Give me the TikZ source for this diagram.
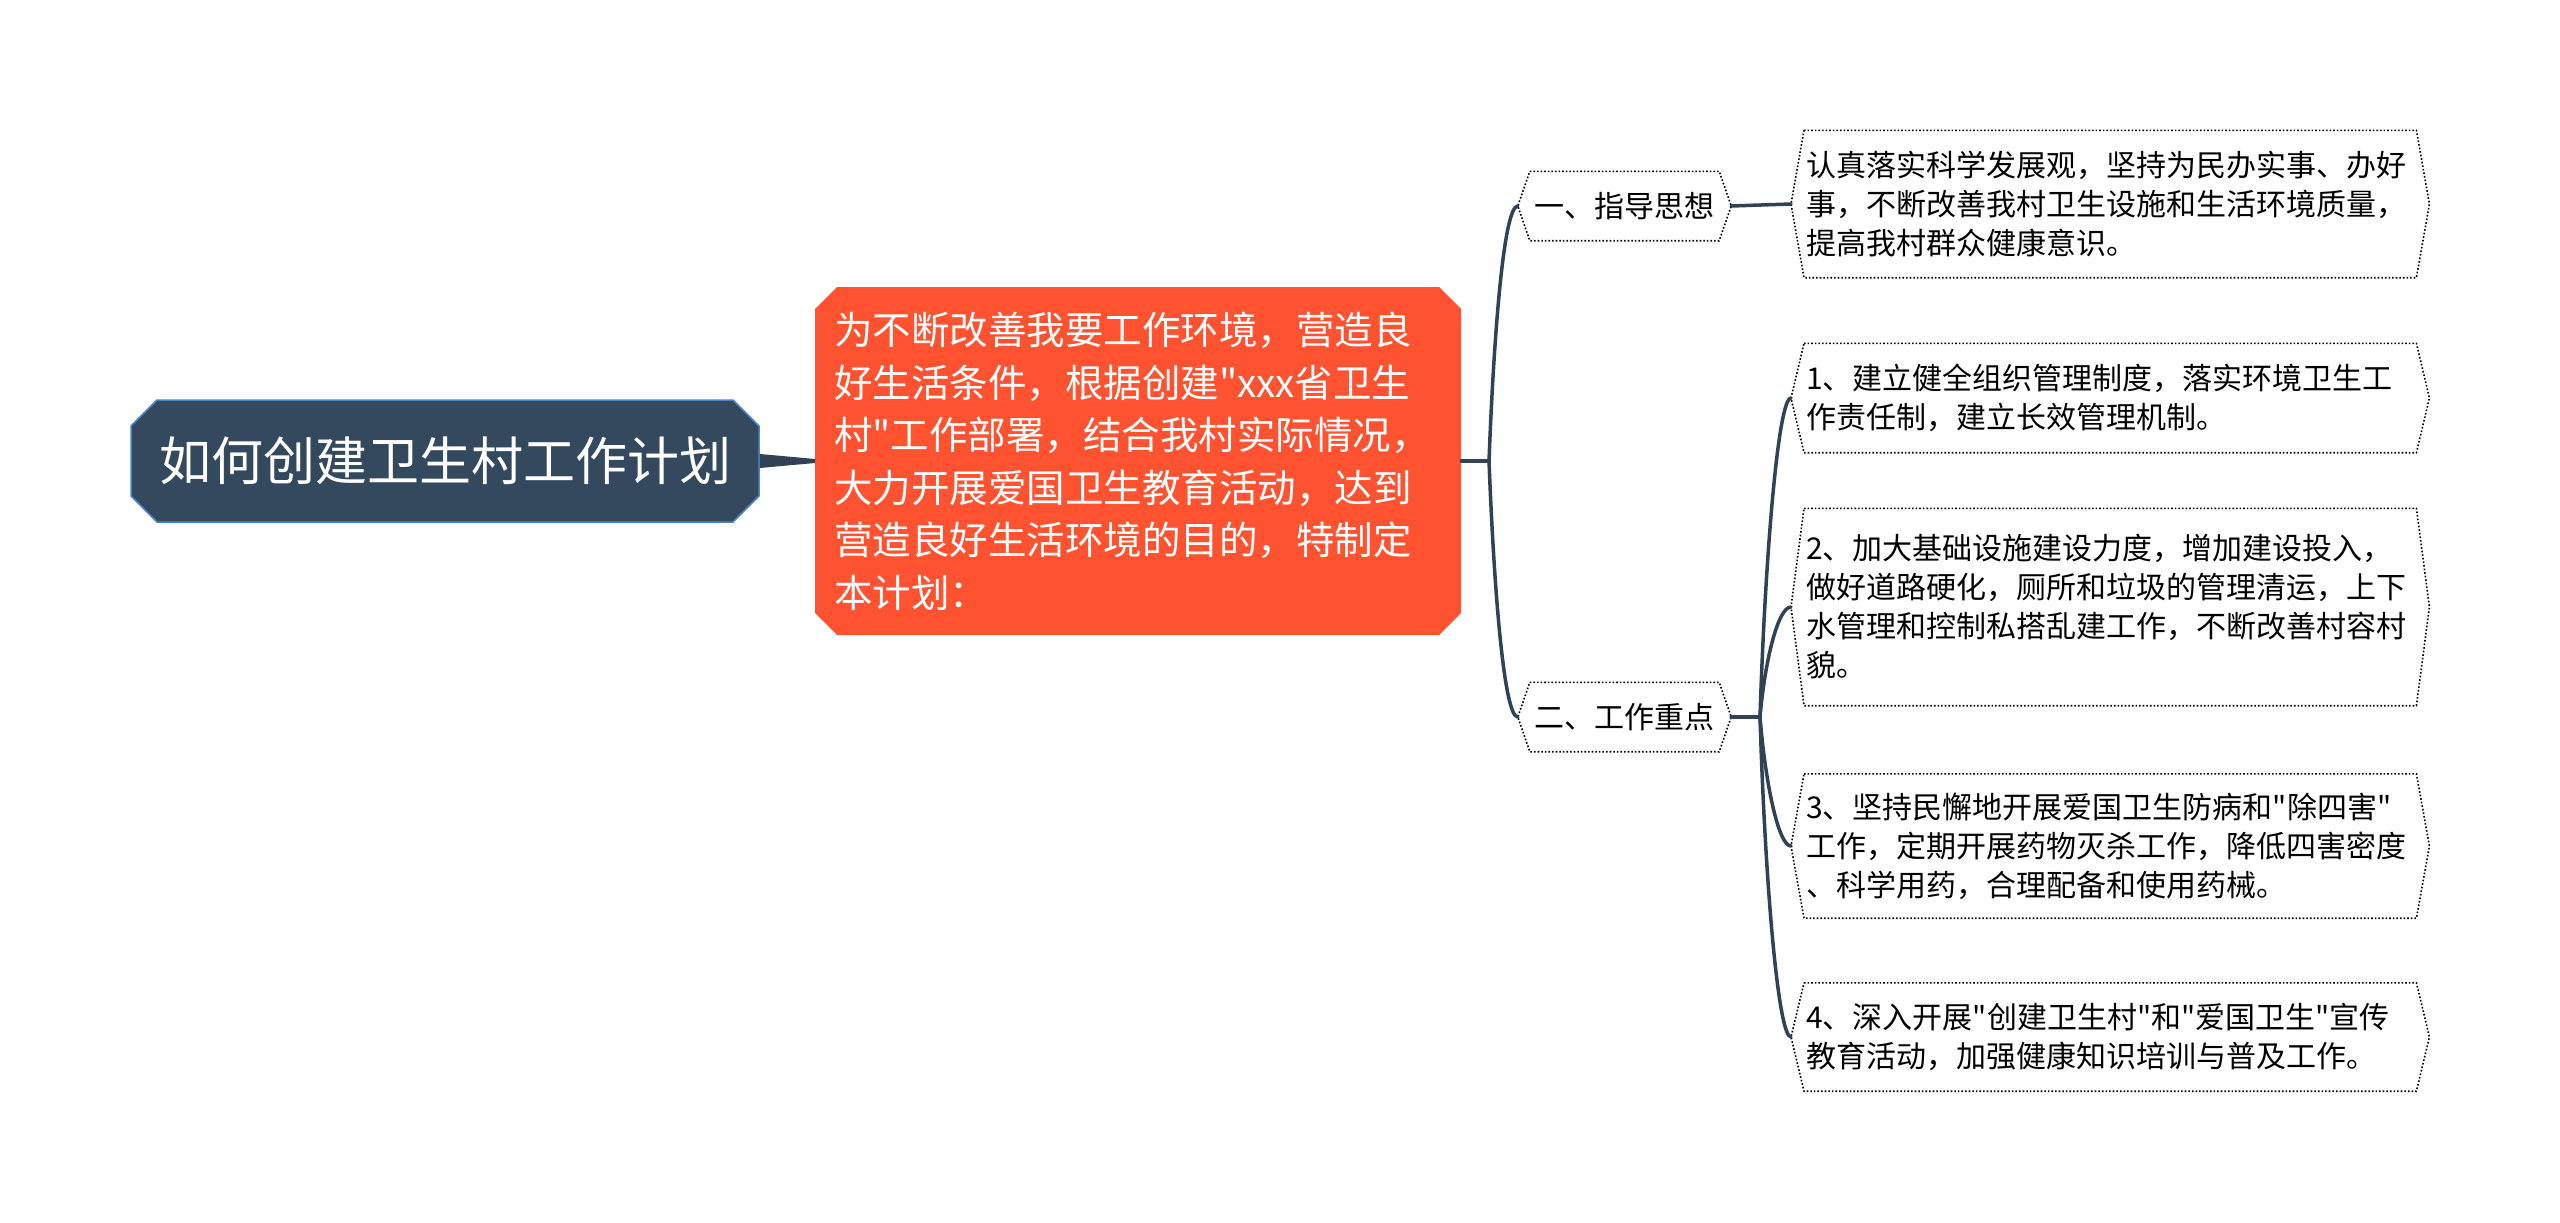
\documentclass[tikz,border=0pt]{standalone}
\usepackage{fontspec}
\setmainfont{Noto Sans CJK SC}[Ligatures=TeXOff]
\usetikzlibrary{shapes.misc,calc}
\definecolor{rootfill}{HTML}{34495E}
\definecolor{rootedge}{HTML}{4A86C8}
\definecolor{orangefill}{HTML}{FE5230}
\definecolor{linecol}{HTML}{2F4355}
\tikzset{
  rootbox/.style={chamfered rectangle, chamfered rectangle xsep=13pt, chamfered rectangle ysep=13pt,
    fill=rootfill, draw=rootedge, line width=1.5pt, text=white, minimum width=628pt, minimum height=122pt,
    inner sep=0pt, font=\fontsize{52}{62}\selectfont},
  orangebox/.style={chamfered rectangle, chamfered rectangle xsep=11pt, chamfered rectangle ysep=11pt,
    fill=orangefill, draw=none, text=white, anchor=west, inner xsep=8pt, inner ysep=0pt,
    minimum height=348pt, text width=608pt, align=left, font=\fontsize{38.5}{52.5}\selectfont},
  midbox/.style={rectangle, draw=none, fill=white, minimum width=189pt, minimum height=69pt, inner sep=0pt,
    font=\fontsize{30}{39}\selectfont},
  leafbox/.style={rectangle, draw=none, fill=white, anchor=west, inner xsep=2pt, inner ysep=0pt,
    text width=608pt, align=left, font=\fontsize{30}{39}\selectfont},
  hexline/.style={draw=black, dotted, line width=1.6pt},
  conn/.style={draw=linecol, line width=3.5pt, line cap=round},
}
\begin{document}
\begin{tikzpicture}[x=1pt,y=-1pt]
\useasboundingbox[fill=white] (0,0) rectangle (2560,1223);

% nodes
\node[rootbox] (root) at (445,461) {如何创建卫生村工作计划};
\node[orangebox] (main) at (815,461) {为不断改善我要工作环境，营造良\\好生活条件，根据创建"xxx省卫生\\村"工作部署，结合我村实际情况，\\大力开展爱国卫生教育活动，达到\\营造良好生活环境的目的，特制定\\本计划：};

\node[midbox] (g1) at (1624.5,206) {一、指导思想};
\node[midbox] (g2) at (1624.5,717) {二、工作重点};

\node[leafbox, minimum height=147pt] (l0) at (1804,204) {认真落实科学发展观，坚持为民办实事、办好\\事，不断改善我村卫生设施和生活环境质量，\\提高我村群众健康意识。};
\node[leafbox, minimum height=109pt] (l1) at (1804,398) {1、建立健全组织管理制度，落实环境卫生工\\作责任制，建立长效管理机制。};
\node[leafbox, minimum height=197pt] (l2) at (1804,607) {2、加大基础设施建设力度，增加建设投入，\\做好道路硬化，厕所和垃圾的管理清运，上下\\水管理和控制私搭乱建工作，不断改善村容村\\貌。};
\node[leafbox, minimum height=144pt] (l3) at (1804,846) {3、坚持民懈地开展爱国卫生防病和"除四害"\\工作，定期开展药物灭杀工作，降低四害密度\\、科学用药，合理配备和使用药械。};
\node[leafbox, minimum height=108pt] (l4) at (1804,1037) {4、深入开展"创建卫生村"和"爱国卫生"宣传\\教育活动，加强健康知识培训与普及工作。};

% hexagon outlines
\foreach \n/\d in {g1/12,g2/12,l0/13,l1/13,l2/13,l3/13,l4/13}{
  \draw[hexline] (\n.north west) -- (\n.north east) -- ([xshift=\d pt]\n.east) -- (\n.south east)
    -- (\n.south west) -- ([xshift=-\d pt]\n.west) -- cycle;
  \coordinate (\n w) at ([xshift=-\d pt]\n.west);
  \coordinate (\n e) at ([xshift=\d pt]\n.east);
}

% root -> main tapered connector
\fill[linecol] ([yshift=7pt]root.east) -- ([yshift=2pt]main.west) -- ([yshift=-2pt]main.west) -- ([yshift=-7pt]root.east) -- cycle;

% main -> forks
\coordinate (f1) at (1489,461);
\coordinate (f2) at (1760,717);
\draw[conn] (main.east) -- (f1);
\draw[conn] (f1) .. controls (1494,330) and (1504,206) .. (g1w);
\draw[conn] (f1) .. controls (1494,590) and (1504,717) .. (g2w);

\draw[conn] (g1e) -- (l0w);
\draw[conn] (g2e) -- (f2);
\draw[conn] (f2) .. controls (1765,560) and (1778,398) .. (l1w);
\draw[conn] (f2) .. controls (1765,660) and (1778,607) .. (l2w);
\draw[conn] (f2) .. controls (1765,780) and (1778,846) .. (l3w);
\draw[conn] (f2) .. controls (1765,880) and (1778,1037) .. (l4w);
\end{tikzpicture}
\end{document}
